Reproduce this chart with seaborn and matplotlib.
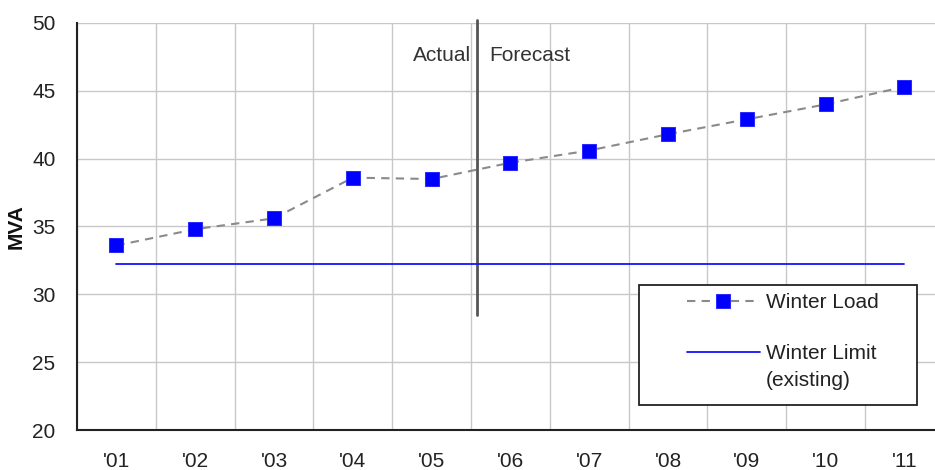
import numpy as np
import pandas as pd
import matplotlib
matplotlib.use('Agg')
import matplotlib.pyplot as plt
import seaborn as sns
from matplotlib.patches import Rectangle

# ---- data ----
years = ["'01", "'02", "'03", "'04", "'05", "'06", "'07", "'08", "'09", "'10", "'11"]
winter_load = [33.6, 34.8, 35.6, 38.6, 38.5, 39.7, 40.6, 41.8, 42.9, 44.0, 45.3]
winter_limit = [32.2, 32.2, 32.2, 32.2, 32.2, 32.2, 32.2, 32.2, 32.2, 32.2, 32.2]
y_ticks = [20, 25, 30, 35, 40, 45, 50]
divider_x = 4.57
divider_span = [28.5, 50.2]
label_actual = "Actual"
label_forecast = "Forecast"
y_label = "MVA"
series_names = ["Winter Load", "Winter Limit"]
limit_note = "(existing)"

sns.set_theme(style="white")
plt.rcParams['font.family'] = ['Liberation Sans', 'DejaVu Sans']

W, H = 935, 470
fig = plt.figure(figsize=(W / 100, H / 100), dpi=100)
ax = fig.add_axes([77 / W, 40 / H, 858 / W, 407 / H])

df = pd.DataFrame({'year': years, 'load': winter_load, 'limit': winter_limit})

sns.lineplot(data=df, x='year', y='limit', ax=ax, color='#1414ff', lw=1.3,
             label=series_names[1], zorder=3)
sns.lineplot(data=df, x='year', y='load', ax=ax, color='#8a8a8a', lw=1.5,
             linestyle=(0, (4, 3)), marker='s', markersize=10,
             markerfacecolor='#0000ff', markeredgecolor='#2a2aff',
             label=series_names[0], zorder=4)

n = len(years)
ax.set_xticks(np.arange(n + 1) - 0.5)
ax.set_xticklabels([])
ax.set_xticks(np.arange(n), minor=True)
ax.set_xticklabels(years, minor=True)
ax.set_yticks(y_ticks)
ax.set_yticklabels([str(v) for v in y_ticks])
ax.set_xlim(-0.5, -0.5 + 858 / 78.8)
ax.set_ylim(y_ticks[0], y_ticks[-1])
ax.set_xlabel('')
ax.set_ylabel(y_label, fontsize=15, fontweight='bold', labelpad=5, color='#111')

ax.grid(True, which='major', color='#c8c8c8', lw=1.0)
ax.set_axisbelow(True)
ax.tick_params(axis='x', which='major', direction='inout', length=9, width=1.2, color='#222')
ax.tick_params(axis='x', which='minor', length=0, pad=16, labelsize=15, labelcolor='#222')
ax.tick_params(axis='y', which='major', direction='inout', length=15, width=1.2,
               color='#222', pad=8, labelsize=15, labelcolor='#222')
for s in ['top', 'right']:
    ax.spines[s].set_visible(False)
for s in ['left', 'bottom']:
    ax.spines[s].set_color('#222')
    ax.spines[s].set_linewidth(1.5)

# Actual / Forecast divider
ax.plot([divider_x, divider_x], divider_span, color='#555555', lw=2, clip_on=False, zorder=2)
ax.text(divider_x - 0.07, 47.6, label_actual, ha='right', va='center', fontsize=15, color='#333')
ax.text(divider_x + 0.16, 47.6, label_forecast, ha='left', va='center', fontsize=15, color='#333')

# legend
handles, labels = ax.get_legend_handles_labels()
order = [labels.index(series_names[0]), labels.index(series_names[1])]
box = Rectangle((639 / W, (H - 405) / H), 278 / W, 120 / H, transform=fig.transFigure,
                facecolor='white', edgecolor='#222', lw=1.3, zorder=5, clip_on=False)
ax.add_patch(box)
leg = ax.legend([handles[i] for i in order], [labels[i] for i in order],
                loc='upper left', bbox_to_anchor=(687 / W, (H - 293) / H),
                bbox_transform=fig.transFigure, frameon=False, fontsize=15,
                handlelength=3.5, handletextpad=0.3, labelspacing=1.55,
                borderpad=0, borderaxespad=0)
for t in leg.get_texts():
    t.set_color('#222')
leg.set_zorder(6)

# second line of the limit label, placed under its legend text
fig.canvas.draw()
bb = leg.get_texts()[1].get_window_extent().transformed(fig.transFigure.inverted())
fig.text(bb.x0, bb.y0 - 8 / H, limit_note, ha='left', va='top', fontsize=15,
         color='#222', zorder=7)

fig.savefig('out.png', dpi=100)
